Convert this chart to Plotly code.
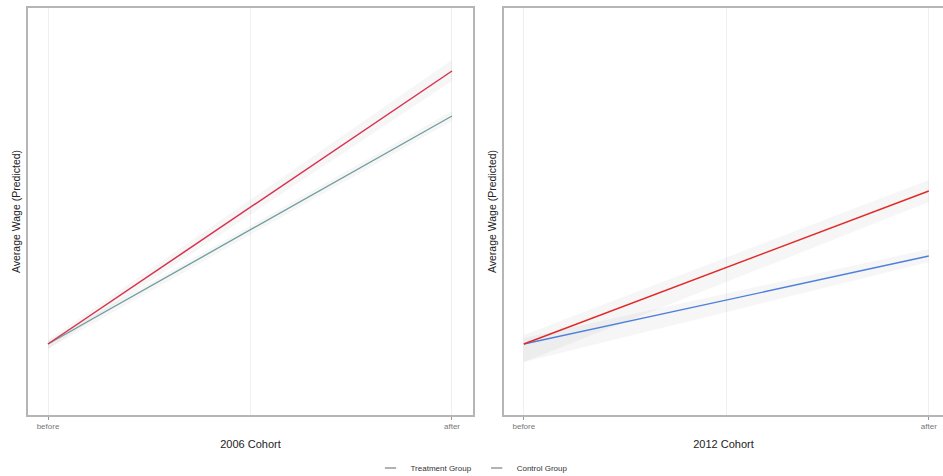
import plotly.graph_objects as go

# ---- data ----
periods = ["before", "after"]
x_pos = [0, 1]
cohorts = ["2006 Cohort", "2012 Cohort"]
treat_2006 = [14.2, 68.8]
control_2006 = [14.2, 59.8]
treat_2012 = [14.2, 44.8]
control_2012 = [14.2, 31.8]
# confidence ribbons (lower, upper)
treat_2006_lo = [13.2, 66.8]
treat_2006_hi = [15.0, 71.0]
control_2006_lo = [13.2, 58.8]
control_2006_hi = [14.8, 60.8]
treat_2012_lo = [10.6, 42.6]
treat_2012_hi = [16.0, 47.0]
control_2012_lo = [10.6, 30.6]
control_2012_hi = [15.4, 33.2]
y_range = [0, 81.4]

colors = {
    "t2006": "#d8314e",
    "c2006": "#6e9c9c",
    "t2012": "#e12a27",
    "c2012": "#4f7fdc",
}

fig = go.Figure()

def ribbon(lo, hi, xa, ya):
    fig.add_trace(go.Scatter(x=x_pos + x_pos[::-1], y=hi + lo[::-1], fill="toself", mode="lines",
                             fillcolor="rgba(150,150,150,0.09)", line=dict(width=0),
                             hoverinfo="skip", showlegend=False, xaxis=xa, yaxis=ya))

ribbon(treat_2006_lo, treat_2006_hi, "x", "y")
ribbon(control_2006_lo, control_2006_hi, "x", "y")
ribbon(treat_2012_lo, treat_2012_hi, "x2", "y2")
ribbon(control_2012_lo, control_2012_hi, "x2", "y2")

fig.add_trace(go.Scatter(x=x_pos, y=control_2006, mode="lines", line=dict(color=colors["c2006"], width=1.3),
                         showlegend=False, xaxis="x", yaxis="y"))
fig.add_trace(go.Scatter(x=x_pos, y=treat_2006, mode="lines", line=dict(color=colors["t2006"], width=1.5),
                         showlegend=False, xaxis="x", yaxis="y"))
fig.add_trace(go.Scatter(x=x_pos, y=control_2012, mode="lines", line=dict(color=colors["c2012"], width=1.3),
                         showlegend=False, xaxis="x2", yaxis="y2"))
fig.add_trace(go.Scatter(x=x_pos, y=treat_2012, mode="lines", line=dict(color=colors["t2012"], width=1.5),
                         showlegend=False, xaxis="x2", yaxis="y2"))

# legend entries (short gray keys as in reference)
for name in ["Treatment Group", "Control Group"]:
    fig.add_trace(go.Scatter(x=[None], y=[None], mode="markers", name=name,
                             marker=dict(symbol="line-ew-open", size=8, color="#666666",
                                         line=dict(color="#666666", width=1.2)),
                             xaxis="x", yaxis="y"))

axis_common = dict(
    tickmode="array", tickvals=x_pos, ticktext=periods,
    showgrid=True, gridcolor="#efefef", gridwidth=1,
    minor=dict(tickmode="array", tickvals=[0.5], showgrid=True, gridcolor="#efefef", ticks=""),
    showline=True, linecolor="#b5b5b5", linewidth=1.5, mirror=True,
    ticks="outside", ticklen=3, tickcolor="#999999",
    tickfont=dict(family="Liberation Sans, Arial", size=8, color="#777777"),
    zeroline=False, automargin=False,
)
yaxis_common = dict(
    showticklabels=False, showgrid=False, zeroline=False, automargin=False,
    showline=True, linecolor="#b5b5b5", linewidth=1.5, mirror=True,
    range=y_range,
    title=dict(text="Average Wage (Predicted)", standoff=4,
               font=dict(family="Liberation Sans, Arial", size=10.5, color="#222222")),
)

fig.update_layout(
    width=943, height=476,
    margin=dict(l=0, r=0, t=0, b=0, autoexpand=False),
    paper_bgcolor="white", plot_bgcolor="white",
    xaxis=dict(domain=[28/943, 473/943], range=[-0.0495, 1.052],
               title=dict(text=cohorts[0], standoff=10,
                          font=dict(family="Liberation Sans, Arial", size=11, color="#222222")),
               **axis_common),
    xaxis2=dict(domain=[504/943, 1.0], range=[-0.049, 1.035], anchor="y2",
                title=dict(text=cohorts[1], standoff=10,
                           font=dict(family="Liberation Sans, Arial", size=11, color="#222222")),
                **axis_common),
    yaxis=dict(domain=[1-415/476, 1-8/476], anchor="x", **yaxis_common),
    yaxis2=dict(domain=[1-415/476, 1-8/476], anchor="x2", **yaxis_common),
    legend=dict(orientation="h", x=0.5, xanchor="center", y=8/476, yanchor="middle",
                font=dict(family="Liberation Sans, Arial", size=8, color="#333333"),
                itemwidth=30, tracegroupgap=0),
    showlegend=True,
)

fig.write_html("out.html")
